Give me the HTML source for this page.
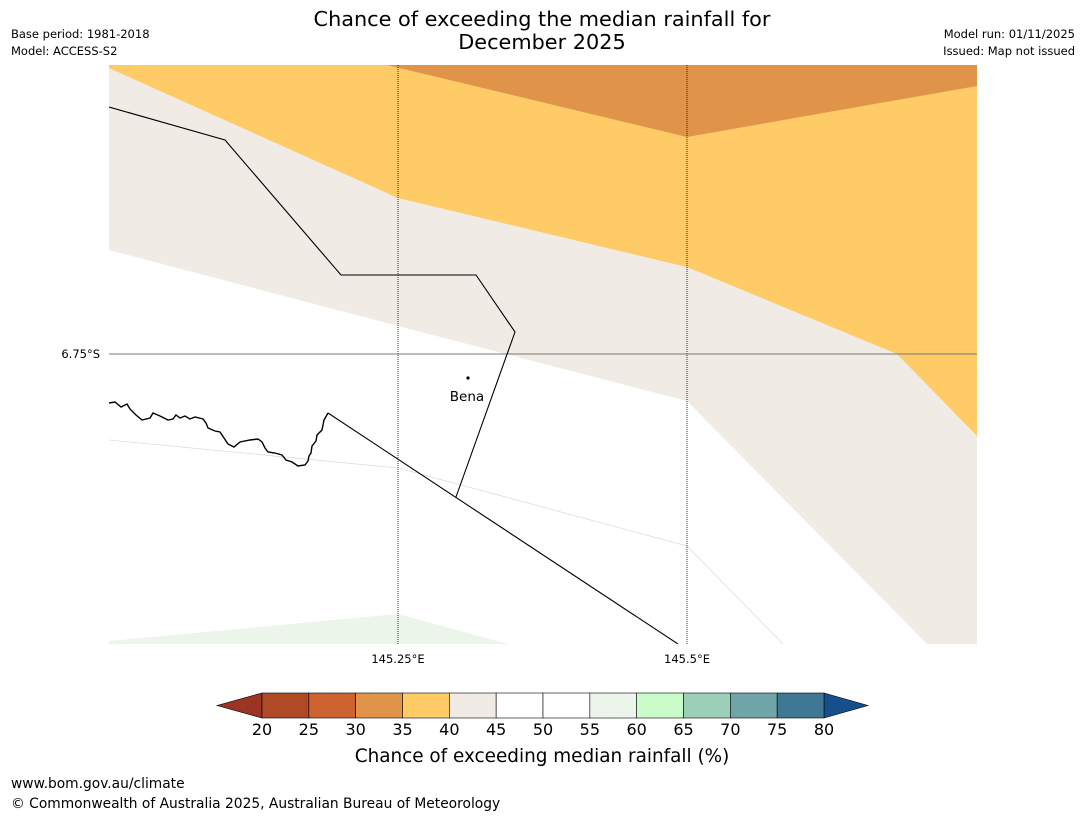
<!DOCTYPE html>
<html><head><meta charset="utf-8">
<style>
body{margin:0;background:#fff;font-family:"DejaVu Sans","Liberation Sans",sans-serif;}
svg{display:block}
</style></head>
<body>
<svg width="1085" height="816" viewBox="0 0 1085 816" xmlns="http://www.w3.org/2000/svg" font-family="DejaVu Sans, Liberation Sans, sans-serif">
<text x="542" y="26" font-size="20.8" text-anchor="middle">Chance of exceeding the median rainfall for</text>
<text x="542" y="49" font-size="20.8" text-anchor="middle">December 2025</text>
<text x="11" y="38" font-size="11.5">Base period: 1981-2018</text>
<text x="11" y="55" font-size="11.5">Model: ACCESS-S2</text>
<text x="1075" y="38" font-size="11.5" text-anchor="end">Model run: 01/11/2025</text>
<text x="1075" y="55" font-size="11.5" text-anchor="end">Issued: Map not issued</text>

<g>
<clipPath id="mc"><rect x="109" y="65" width="868" height="579"/></clipPath>
<g clip-path="url(#mc)">
<rect x="109" y="65" width="868" height="579" fill="#fff"/>
<polygon fill="#f0ebe5" points="109,65 977,65 977,644 927,644 687,401 398,326 109,250"/>
<polygon fill="#fecb67" points="109,65 977,65 977,436 897,354 687,267 398,198 109,68"/>
<polygon fill="#e0944a" points="387,65 977,65 977,86 687,137"/>
<polygon fill="#ebf5e9" points="109,641 398,614 508,644 109,644"/>
<polyline fill="none" stroke="#ddd" stroke-width="0.8" points="109,440 398,468 687,546 783,644"/>
<line x1="398" y1="65" x2="398" y2="644" stroke="#000" stroke-width="0.8" stroke-dasharray="1,1"/>
<line x1="687" y1="65" x2="687" y2="644" stroke="#000" stroke-width="0.8" stroke-dasharray="1,1"/>
<line x1="109" y1="354" x2="977" y2="354" stroke="#777" stroke-width="1"/>
<polyline fill="none" stroke="#000" stroke-width="1.1" points="109,107 225,140 341,275 476,275 515,332 456,497"/>
<polyline fill="none" stroke="#000" stroke-width="1.1" points="328,413 678,644"/>
<path fill="none" stroke="#000" stroke-width="1.4" d="M109,403 L115,402 L121,407 L127,404 L130,409 L136,415 L142,420 L150,418 L153,413 L160,416 L168,420 L173,419 L176,415 L180,418 L185,416 L190,419 L195,417 L203,419 L206,423 L208,428 L215,431 L220,432 L224,438 L228,444 L234,447 L240,442 L250,440 L258,439 L262,442 L265,448 L268,452 L275,453 L282,455 L286,460 L292,462 L298,466 L305,465 L308,461 L309,456 L311,453 L312,446 L316,441 L317,435 L322,430 L324,420 L328,413"/>
</g>
<circle cx="468" cy="378" r="1.6" fill="#000"/>
<text x="467" y="401" font-size="13.5" text-anchor="middle">Bena</text>
<text x="100" y="358" font-size="11.5" text-anchor="end">6.75°S</text>
<text x="398" y="663" font-size="11.5" text-anchor="middle">145.25°E</text>
<text x="687" y="663" font-size="11.5" text-anchor="middle">145.5°E</text>
</g>

<g id="cbar"></g>
<text x="542" y="762" font-size="18.4" text-anchor="middle">Chance of exceeding median rainfall (%)</text>
<text x="11" y="788" font-size="13.8">www.bom.gov.au/climate</text>
<text x="11" y="808" font-size="13.8">© Commonwealth of Australia 2025, Australian Bureau of Meteorology</text>
</svg>
<script>
const levels = [20,25,30,35,40,45,50,55,60,65,70,75,80];
const binColors = ["#b04a26","#cc6331","#e0944a","#fecb67","#f0ebe5","#ffffff","#ffffff","#ebf5e9","#c9fcc9","#9bcfb8","#6fa5a8","#3f7895"];
const ns="http://www.w3.org/2000/svg";
const g=document.getElementById('cbar');
const x0=262,x1=824,y0=693,h=25;
const sx=v=>x0+(v-levels[0])/(levels[levels.length-1]-levels[0])*(x1-x0);
function mk(t,a){const e=document.createElementNS(ns,t);for(const k in a)e.setAttribute(k,a[k]);g.appendChild(e);return e;}
const lt=mk('polygon',{points:`${x0},${y0} ${x0},${y0+h} 217,${y0+h/2}`,fill:'#9b3422',stroke:'#000','stroke-width':0.6});


const rt=mk('polygon',{points:`${x1},${y0} ${x1},${y0+h} 868,${y0+h/2}`,fill:'#164f8a',stroke:'#000','stroke-width':0.6});


for(let i=0;i<binColors.length;i++){
 const r=mk('rect',{x:sx(levels[i]),y:y0,width:sx(levels[i+1])-sx(levels[i]),height:h,fill:binColors[i],stroke:'#000','stroke-width':0.6});
 
 
}
levels.forEach(v=>{
 const t=mk('text',{x:sx(v),y:735,'font-size':16,'text-anchor':'middle'});
 t.textContent=v;
 
 
});
</script>
</body></html>
